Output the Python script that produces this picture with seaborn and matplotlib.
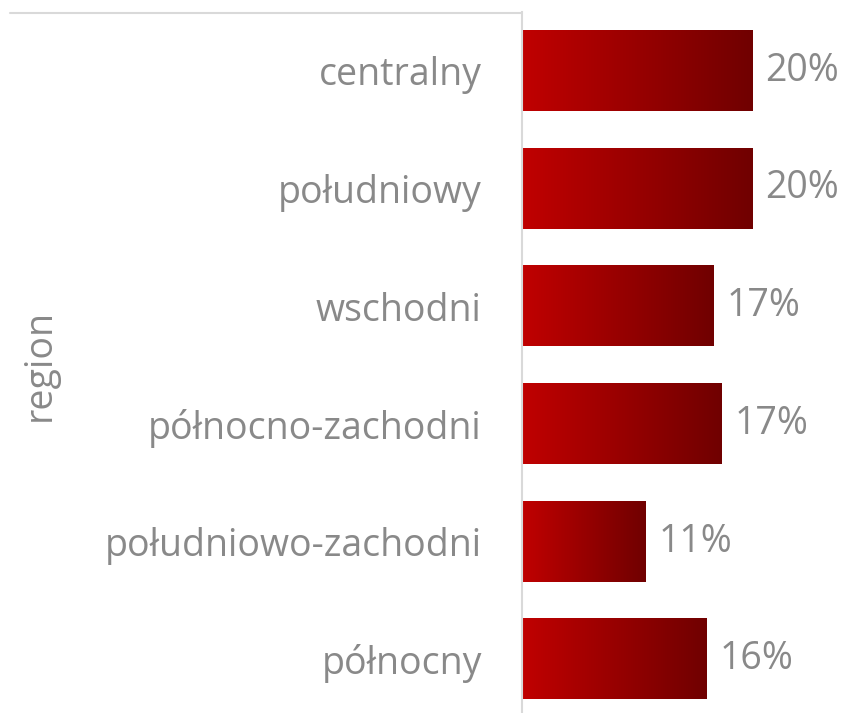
import numpy as np
import matplotlib.pyplot as plt
import seaborn as sns
from matplotlib.colors import LinearSegmentedColormap
from matplotlib.lines import Line2D

# Values
regions = ["centralny", "południowy", "wschodni", "północno-zachodni",
           "południowo-zachodni", "północny"]
shares = [20.0, 20.0, 16.6, 17.3, 10.7, 16.0]
share_labels = ["20%", "20%", "17%", "17%", "11%", "16%"]

sns.set_style("white")
plt.rcParams["font.family"] = ["Open Sans", "DejaVu Sans"]

grey = "#898989"
line_grey = "#D9D9D9"

fig = plt.figure(figsize=(8.51, 7.13), dpi=100)
ax = fig.add_axes([522 / 851, -5 / 713, 329 / 851, 706 / 713])

sns.barplot(x=shares, y=regions, orient="h", width=0.68, color="#C00000", ax=ax)

# gradient fill for the bars
cmap = LinearSegmentedColormap.from_list("redgrad", ["#C00000", "#700000"])
grad = np.linspace(0, 1, 256).reshape(1, -1)
for p in ax.patches:
    x0, y0, w, h = p.get_x(), p.get_y(), p.get_width(), p.get_height()
    ax.imshow(grad, cmap=cmap, extent=[x0, x0 + w, y0 + h, y0],
              aspect="auto", zorder=2, interpolation="bilinear")
    p.set_facecolor("none")
    p.set_edgecolor("none")

ax.set_xlim(0, 28.5)
ax.set_ylim(5.5, -0.5)

# value labels
for i, (v, lab) in enumerate(zip(shares, share_labels)):
    ax.text(v + 1.1, i, lab, va="center", ha="left", fontsize=27, color=grey)

ax.set_xticks([])
ax.set_xlabel("")
ax.set_ylabel("")
ax.tick_params(axis="y", length=0, pad=29, labelsize=27, labelcolor=grey)

for s in ["top", "right", "bottom"]:
    ax.spines[s].set_visible(False)
ax.spines["left"].set_color(line_grey)
ax.spines["left"].set_linewidth(1.5)

# top rule above the category labels
fig.add_artist(Line2D([10 / 851, 522 / 851], [700 / 713, 700 / 713],
                      transform=fig.transFigure, color=line_grey, lw=1.5))

fig.text(40 / 851, (713 - 365) / 713, "region", rotation=90,
         ha="center", va="center", fontsize=27, color=grey)

fig.savefig("out.png", dpi=100)
